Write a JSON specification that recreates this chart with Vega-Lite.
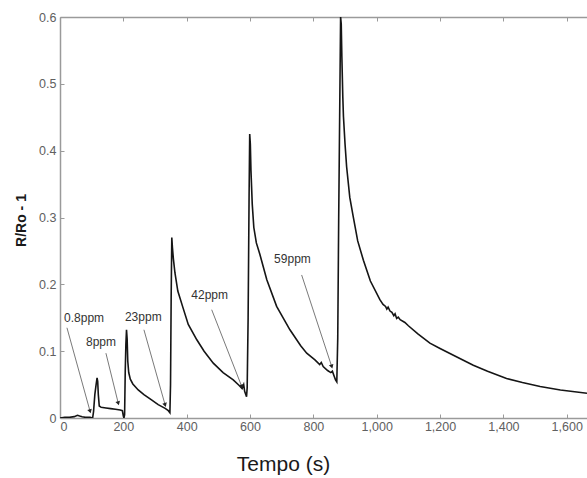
{
  "$schema": "https://vega.github.io/schema/vega-lite/v6.json",
  "width": 527,
  "height": 401,
  "autosize": "none",
  "padding": {"left": 60, "top": 17, "right": 0, "bottom": 60},
  "background": "white",
  "config": {
    "view": {"stroke": null},
    "font": "Liberation Sans",
    "axis": {
      "grid": false,
      "domainColor": "#9a9a9a",
      "domainWidth": 1.5,
      "tickColor": "#9a9a9a",
      "tickWidth": 1,
      "labelColor": "#606060",
      "labelFont": "Liberation Sans",
      "labelFontSize": 12.5
    }
  },
  "datasets": {
    "curve": [
      {"t": 0, "v": 0.0}, {"t": 15, "v": 0.001}, {"t": 30, "v": 0.001}, {"t": 45, "v": 0.002},
      {"t": 55, "v": 0.004}, {"t": 62, "v": 0.003}, {"t": 70, "v": 0.002}, {"t": 80, "v": 0.001},
      {"t": 95, "v": 0.001}, {"t": 103, "v": 0.0}, {"t": 106, "v": 0.01}, {"t": 110, "v": 0.035},
      {"t": 114, "v": 0.05}, {"t": 117, "v": 0.06}, {"t": 119, "v": 0.055}, {"t": 121, "v": 0.035},
      {"t": 124, "v": 0.018}, {"t": 130, "v": 0.016}, {"t": 145, "v": 0.015}, {"t": 160, "v": 0.014},
      {"t": 175, "v": 0.013}, {"t": 190, "v": 0.012}, {"t": 197, "v": 0.011}, {"t": 200, "v": 0.003},
      {"t": 202, "v": 0.0}, {"t": 204, "v": 0.005}, {"t": 206, "v": 0.07}, {"t": 208, "v": 0.11},
      {"t": 210, "v": 0.132}, {"t": 212, "v": 0.118}, {"t": 214, "v": 0.085}, {"t": 217, "v": 0.068},
      {"t": 222, "v": 0.058}, {"t": 230, "v": 0.051}, {"t": 247, "v": 0.042}, {"t": 265, "v": 0.035},
      {"t": 289, "v": 0.027}, {"t": 310, "v": 0.02}, {"t": 332, "v": 0.0145}, {"t": 342, "v": 0.011},
      {"t": 347, "v": 0.008}, {"t": 349, "v": 0.05}, {"t": 351, "v": 0.18}, {"t": 353, "v": 0.27},
      {"t": 355, "v": 0.255}, {"t": 358, "v": 0.238}, {"t": 363, "v": 0.217}, {"t": 372, "v": 0.19},
      {"t": 387, "v": 0.167}, {"t": 405, "v": 0.14}, {"t": 432, "v": 0.117}, {"t": 455, "v": 0.1},
      {"t": 484, "v": 0.082}, {"t": 515, "v": 0.068}, {"t": 547, "v": 0.057}, {"t": 565, "v": 0.049},
      {"t": 575, "v": 0.044}, {"t": 580, "v": 0.05}, {"t": 583, "v": 0.04}, {"t": 586, "v": 0.036},
      {"t": 589, "v": 0.032}, {"t": 591, "v": 0.045}, {"t": 594, "v": 0.15}, {"t": 597, "v": 0.33},
      {"t": 599, "v": 0.425}, {"t": 601, "v": 0.41}, {"t": 603, "v": 0.37}, {"t": 607, "v": 0.32},
      {"t": 612, "v": 0.285}, {"t": 620, "v": 0.262}, {"t": 631, "v": 0.245}, {"t": 653, "v": 0.207},
      {"t": 684, "v": 0.167}, {"t": 726, "v": 0.132}, {"t": 760, "v": 0.108}, {"t": 779, "v": 0.097},
      {"t": 805, "v": 0.087}, {"t": 820, "v": 0.08}, {"t": 825, "v": 0.083}, {"t": 831, "v": 0.077},
      {"t": 845, "v": 0.071}, {"t": 855, "v": 0.068}, {"t": 860, "v": 0.07}, {"t": 866, "v": 0.062},
      {"t": 870, "v": 0.057}, {"t": 874, "v": 0.054}, {"t": 877, "v": 0.12}, {"t": 880, "v": 0.3},
      {"t": 883, "v": 0.45}, {"t": 886, "v": 0.6}, {"t": 888, "v": 0.59}, {"t": 890, "v": 0.54},
      {"t": 893, "v": 0.48}, {"t": 895, "v": 0.451}, {"t": 900, "v": 0.41}, {"t": 905, "v": 0.376},
      {"t": 915, "v": 0.33}, {"t": 926, "v": 0.301}, {"t": 940, "v": 0.265}, {"t": 958, "v": 0.236},
      {"t": 980, "v": 0.205}, {"t": 1010, "v": 0.177}, {"t": 1020, "v": 0.17}, {"t": 1028, "v": 0.167},
      {"t": 1032, "v": 0.163}, {"t": 1036, "v": 0.166}, {"t": 1042, "v": 0.16}, {"t": 1048, "v": 0.158},
      {"t": 1054, "v": 0.153}, {"t": 1058, "v": 0.156}, {"t": 1063, "v": 0.149}, {"t": 1068, "v": 0.151},
      {"t": 1074, "v": 0.147}, {"t": 1089, "v": 0.143}, {"t": 1100, "v": 0.138}, {"t": 1130, "v": 0.126},
      {"t": 1168, "v": 0.112}, {"t": 1200, "v": 0.104}, {"t": 1250, "v": 0.092}, {"t": 1305, "v": 0.079},
      {"t": 1350, "v": 0.07}, {"t": 1410, "v": 0.059}, {"t": 1460, "v": 0.053}, {"t": 1516, "v": 0.047},
      {"t": 1580, "v": 0.042}, {"t": 1664, "v": 0.037}
    ],
    "notes": [
      {"label": "0.8ppm", "t": 76, "v": 0.15},
      {"label": "8ppm", "t": 129.5, "v": 0.114},
      {"label": "23ppm", "t": 263, "v": 0.151},
      {"label": "42ppm", "t": 472.6, "v": 0.184},
      {"label": "59ppm", "t": 734, "v": 0.2375}
    ],
    "arrows": [
      {"label": "0.8ppm", "t0": 22, "v0": 0.135, "t1": 95, "v1": 0.01},
      {"label": "8ppm", "t0": 145, "v0": 0.097, "t1": 184, "v1": 0.022},
      {"label": "23ppm", "t0": 265, "v0": 0.132, "t1": 332, "v1": 0.0195},
      {"label": "42ppm", "t0": 479, "v0": 0.162, "t1": 574, "v1": 0.047},
      {"label": "59ppm", "t0": 763, "v0": 0.214, "t1": 858, "v1": 0.077}
    ]
  },
  "layer": [
    {
      "data": {"name": "curve"},
      "mark": {"type": "line", "color": "#151515", "strokeWidth": 1.6, "clip": true},
      "encoding": {
        "x": {
          "field": "t", "type": "quantitative",
          "scale": {"domain": [0, 1664], "nice": false},
          "axis": {
            "orient": "bottom",
            "values": [0, 200, 400, 600, 800, 1000, 1200, 1400, 1600],
            "tickSize": -4,
            "labelPadding": 6,
            "title": "Tempo (s)",
            "titleFont": "Liberation Sans",
            "titleFontSize": 21,
            "titleFontWeight": "normal",
            "titleColor": "#1a1a1a",
            "titleX": 223,
            "titleY": 46,
            "titleBaseline": "middle"
          }
        },
        "y": {
          "field": "v", "type": "quantitative",
          "scale": {"domain": [0, 0.6], "nice": false},
          "axis": {
            "values": [0, 0.1, 0.2, 0.3, 0.4, 0.5, 0.6],
            "format": "~g",
            "tickSize": -4,
            "labelPadding": 8,
            "title": "R/Ro - 1",
            "titleFont": "Liberation Sans",
            "titleFontSize": 14,
            "titleFontWeight": "bold",
            "titleColor": "#1a1a1a",
            "titleX": -39,
            "titleY": 203,
            "titleAngle": -90,
            "titleAlign": "center",
            "titleBaseline": "middle"
          }
        }
      }
    },
    {
      "data": {"name": "arrows"},
      "mark": {"type": "rule", "color": "#6a6a6a", "strokeWidth": 0.9},
      "encoding": {
        "x": {
          "field": "t0", "type": "quantitative",
          "axis": {
            "orient": "top",
            "values": [0, 200, 400, 600, 800, 1000, 1200, 1400, 1600],
            "labels": false,
            "tickSize": -4,
            "title": null
          }
        },
        "x2": {"field": "t1"},
        "y": {"field": "v0", "type": "quantitative"},
        "y2": {"field": "v1"}
      }
    },
    {
      "data": {"name": "arrows"},
      "mark": {"type": "point", "shape": "triangle-down", "filled": true, "color": "#222", "size": 22, "angle": -17, "opacity": 1},
      "encoding": {
        "x": {"field": "t1", "type": "quantitative", "axis": null},
        "y": {"field": "v1", "type": "quantitative"}
      }
    },
    {
      "data": {"name": "notes"},
      "mark": {"type": "text", "font": "Liberation Sans", "fontSize": 12, "color": "#333", "align": "center", "baseline": "middle"},
      "encoding": {
        "x": {"field": "t", "type": "quantitative", "axis": null},
        "y": {"field": "v", "type": "quantitative"},
        "text": {"field": "label"}
      }
    }
  ],
  "resolve": {"axis": {"x": "independent"}}
}
